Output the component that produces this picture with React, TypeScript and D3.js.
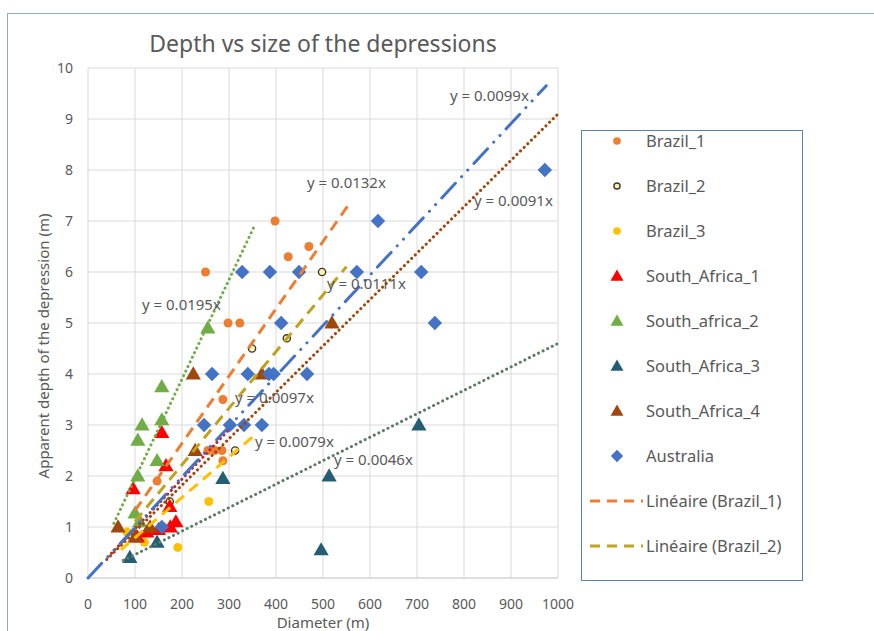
import React from "react";
import * as d3 from "d3";

// ---------- data ----------
const brazil1: [number, number][] = [
  [250, 6], [398, 7], [426, 6.3], [470, 6.5], [298, 5], [323, 5], [287, 3.5],
  [287, 2.3], [147, 1.9], [255, 2.5], [270, 2.5], [285, 2.5], [160, 1.0], [130, 0.9],
];
const brazil2: [number, number][] = [
  [498, 6], [349, 4.5], [423, 4.7], [313, 2.5], [174, 1.5],
];
const brazil3: [number, number][] = [
  [257, 1.5], [191, 0.6], [83, 0.9], [120, 0.7],
];
const southAfrica1: [number, number][] = [
  [96, 1.75], [157, 2.85], [166, 2.2], [174, 1.4], [187, 1.1], [105, 0.8],
  [125, 0.9], [175, 1.0], [150, 0.95],
];
const southAfrica2: [number, number][] = [
  [255, 4.9], [157, 3.75], [157, 3.1], [115, 3.0], [106, 2.7], [147, 2.3],
  [106, 2.0], [100, 1.27], [110, 1.1],
];
const southAfrica3: [number, number][] = [
  [89, 0.4], [147, 0.7], [287, 1.95], [513, 2.0], [496, 0.55], [704, 3.0],
];
const southAfrica4: [number, number][] = [
  [64, 1.0], [100, 0.8], [132, 1.0], [228, 2.5], [224, 4.0], [370, 4.0], [519, 5.0],
];
const australia: [number, number][] = [
  [328, 6], [387, 6], [449, 6], [572, 6], [617, 7], [709, 6], [972, 8], [738, 5],
  [411, 5], [264, 4], [340, 4], [385, 4], [395, 4], [466, 4], [247, 3], [302, 3],
  [332, 3], [370, 3], [157, 1],
];

// trendlines: slope, from x, to x
const trendSlopes = [0.0132, 0.0111, 0.0079, 0.0097, 0.0195, 0.0046, 0.0091, 0.0099];
const trendFrom = [100, 100, 70, 50, 55, 75, 40, 0];
const trendTo = [552, 550, 350, 300, 355, 1000, 1000, 975];
const trendLabels = [
  "y = 0.0132x", "y = 0.0111x", "y = 0.0079x", "y = 0.0097x",
  "y = 0.0195x", "y = 0.0046x", "y = 0.0091x", "y = 0.0099x",
];

const xTicks = [0, 100, 200, 300, 400, 500, 600, 700, 800, 900, 1000];
const yTicks = [0, 1, 2, 3, 4, 5, 6, 7, 8, 9, 10];

const legendLabels = [
  "Brazil_1", "Brazil_2", "Brazil_3", "South_Africa_1", "South_africa_2",
  "South_Africa_3", "South_Africa_4", "Australia", "Linéaire (Brazil_1)", "Linéaire (Brazil_2)",
];

// ---------- styles ----------
const FONT = "'Noto Sans', 'Open Sans', sans-serif";
const TXT = "#595959";
const markerStyle = [
  { shape: "circle", fill: "#ED7D31", stroke: "none", r: 4.5 },
  { shape: "circle", fill: "#FFF2B8", stroke: "#3A3A2A", r: 3.6 },
  { shape: "circle", fill: "#FFC000", stroke: "none", r: 4.5 },
  { shape: "triangle", fill: "#FF0000", stroke: "none", r: 0 },
  { shape: "triangle", fill: "#70AD47", stroke: "none", r: 0 },
  { shape: "triangle", fill: "#255E74", stroke: "none", r: 0 },
  { shape: "triangle", fill: "#9E480E", stroke: "none", r: 0 },
  { shape: "diamond", fill: "#4472C4", stroke: "none", r: 0 },
];
const trendStyle = [
  { color: "#ED7D31", dash: "11,7", cap: "butt" },
  { color: "#BFA21E", dash: "11,7", cap: "butt" },
  { color: "#FFC000", dash: "11,7", cap: "butt" },
  { color: "#C0282A", dash: "0.1,5", cap: "round" },
  { color: "#70AD47", dash: "0.1,5", cap: "round" },
  { color: "#5E7B63", dash: "0.1,5", cap: "round" },
  { color: "#9E480E", dash: "0.1,5", cap: "round" },
  { color: "#4472C4", dash: "20,9,0.1,9,0.1,9", cap: "round" },
];
const labelPos: [number, number][] = [
  [307, 188], [327, 289], [255, 447], [235, 403], [142, 310], [334, 465], [474, 206], [450, 101],
];

function Marker({ idx, cx, cy, scale = 1 }: { idx: number; cx: number; cy: number; scale?: number }) {
  const m = markerStyle[idx];
  if (m.shape === "circle") {
    return <circle cx={cx} cy={cy} r={m.r * scale} fill={m.fill} stroke={m.stroke} strokeWidth={1.4} />;
  }
  if (m.shape === "triangle") {
    const p = d3.symbol().type(d3.symbolTriangle).size(100 * scale * scale)();
    return <path d={p || ""} transform={`translate(${cx},${cy + 1})`} fill={m.fill} />;
  }
  const p = d3.symbol().type(d3.symbolSquare).size(104 * scale * scale)();
  return <path d={p || ""} transform={`translate(${cx},${cy}) rotate(45)`} fill={m.fill} />;
}

export default function App() {
  const x = d3.scaleLinear().domain([0, 1000]).range([88, 558]);
  const y = d3.scaleLinear().domain([0, 10]).range([578, 68]);
  const allSeries = [brazil1, brazil2, brazil3, southAfrica1, southAfrica2, southAfrica3, southAfrica4, australia];
  const line = d3.line<[number, number]>().x((d) => x(d[0])).y((d) => y(d[1]));

  return (
    <svg width={874} height={631} style={{ position: "absolute", left: 0, top: 0, background: "#fff" }} fontFamily={FONT}>
      <rect x={7.5} y={13.5} width={880} height={640} fill="#fff" stroke="#8FAFB8" strokeWidth={1} />
      <text x={323} y={52} textAnchor="middle" fontSize={23} fill={TXT}>Depth vs size of the depressions</text>

      {/* grid */}
      {xTicks.map((t) => (
        <line key={"gx" + t} x1={x(t)} x2={x(t)} y1={y(0)} y2={y(10)} stroke="#D9D9D9" strokeWidth={1} />
      ))}
      {yTicks.map((t) => (
        <line key={"gy" + t} x1={x(0)} x2={x(1000)} y1={y(t)} y2={y(t)} stroke="#D9D9D9" strokeWidth={1} />
      ))}
      <line x1={x(0)} x2={x(1000)} y1={y(0)} y2={y(0)} stroke="#D0D0D0" strokeWidth={1} />

      {/* tick labels */}
      {yTicks.map((t) => (
        <text key={"ty" + t} x={73} y={y(t) + 5} textAnchor="end" fontSize={14} fill={TXT}>{t}</text>
      ))}
      {xTicks.map((t) => (
        <text key={"tx" + t} x={x(t)} y={609} textAnchor="middle" fontSize={14} fill={TXT}>{t}</text>
      ))}

      {/* axis titles */}
      <text x={323} y={628} textAnchor="middle" fontSize={15} fill={TXT}>Diameter (m)</text>
      <text transform={`translate(49,346) rotate(-90)`} textAnchor="middle" fontSize={15} fill={TXT}>
        Apparent depth of the depression (m)
      </text>

      {/* markers */}
      {allSeries.map((s, i) => (
        <g key={"s" + i}>
          {s.map((d, j) => (
            <Marker key={j} idx={i} cx={x(d[0])} cy={y(d[1])} />
          ))}
        </g>
      ))}

      {/* trendlines */}
      {trendSlopes.map((k, i) => {
        const pts: [number, number][] = [
          [trendFrom[i], k * trendFrom[i]],
          [trendTo[i], k * trendTo[i]],
        ];
        const st = trendStyle[i];
        return (
          <path key={"t" + i} d={line(pts) || ""} fill="none" stroke={st.color} strokeWidth={3}
            strokeDasharray={st.dash} strokeLinecap={st.cap as any} />
        );
      })}
      {trendLabels.map((l, i) => (
        <text key={"tl" + i} x={labelPos[i][0]} y={labelPos[i][1]} fontSize={15} fill={TXT}>{l}</text>
      ))}

      {/* legend */}
      <rect x={581.5} y={130.5} width={221} height={450} fill="#fff" stroke="#5B83A8" strokeWidth={1} />
      {legendLabels.map((l, i) => {
        const cy = 141 + i * 45;
        return (
          <g key={"lg" + i}>
            {i < 8 ? (
              <Marker idx={i} cx={617} cy={cy} scale={0.85} />
            ) : (
              <line x1={590} x2={643} y1={cy} y2={cy} stroke={trendStyle[i - 8].color} strokeWidth={3}
                strokeDasharray="10,7" />
            )}
            <text x={646} y={cy + 5.5} fontSize={16.5} fill={TXT}>{l}</text>
          </g>
        );
      })}
    </svg>
  );
}
